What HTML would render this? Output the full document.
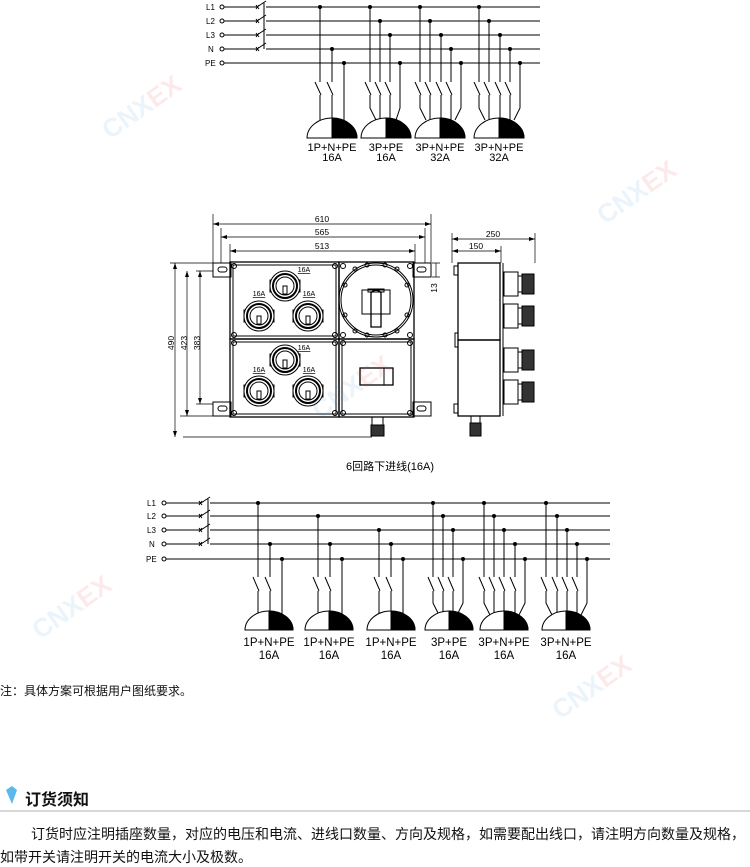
<!DOCTYPE html>
<html><head><meta charset="utf-8"><style>
html,body{margin:0;padding:0;background:#fff;}
body{width:750px;height:865px;position:relative;overflow:hidden;font-family:"Liberation Sans","Noto Sans CJK SC",sans-serif;}
.t{position:absolute;color:#111;white-space:nowrap;}
</style></head><body>
<svg width="750" height="865" style="position:absolute;left:0;top:0" xmlns="http://www.w3.org/2000/svg">
<g fill="none" stroke="#000" stroke-width="1">
<g font-family="Liberation Sans" font-size="8" fill="#000" stroke="none">
<text x="206" y="10">L1</text><text x="206" y="24">L2</text><text x="206" y="38">L3</text><text x="208" y="52">N</text><text x="205" y="66">PE</text>
</g>
<g>
<circle cx="222" cy="7" r="2"/><circle cx="222" cy="21" r="2"/><circle cx="222" cy="35" r="2"/><circle cx="222" cy="49" r="2"/><circle cx="222" cy="63" r="2"/>
<path d="M224 7H257M266 7H540M224 21H257M266 21H540M224 35H257M266 35H540M224 49H257M266 49H540M224 63H540"/>
<path d="M257 7L266 1M257 21L266 15M257 35L266 29M257 49L266 43M264 3V49"/>
<path d="M256 5l3 4M259 5l-3 4M256 19l3 4M259 19l-3 4M256 33l3 4M259 33l-3 4M256 47l3 4M259 47l-3 4"/>
</g>
<g fill="#000" stroke="none">
<circle cx="320" cy="7" r="2"/><circle cx="332" cy="49" r="2"/><circle cx="344" cy="63" r="2"/>
<circle cx="370" cy="7" r="2"/><circle cx="380" cy="21" r="2"/><circle cx="390" cy="35" r="2"/><circle cx="400" cy="63" r="2"/>
<circle cx="420" cy="7" r="2"/><circle cx="430" cy="21" r="2"/><circle cx="441" cy="35" r="2"/><circle cx="451" cy="49" r="2"/><circle cx="461" cy="63" r="2"/>
<circle cx="479" cy="7" r="2"/><circle cx="489" cy="21" r="2"/><circle cx="500" cy="35" r="2"/><circle cx="510" cy="49" r="2"/><circle cx="520" cy="63" r="2"/>
</g>
<path d="M320 7V82M315 82L321 95M320 95V138M332 49V82M327 82L333 95M332 95V138M344 63V138"/>
<path d="M370 7V82M365 82L371 95M370 95V108L376 120M380 21V82M375 82L381 95M380 95V130M390 35V82M385 82L391 95M390 95V130M400 63V108L396 120"/>
<path d="M420 7V82M415 82L421 95M420 95V108L426 120M430 21V82M425 82L431 95M430 95V130M441 35V82M436 82L442 95M441 95V130M451 49V82M446 82L452 95M451 95V130M461 63V108L455 120"/>
<path d="M479 7V82M474 82L480 95M479 95V108L485 120M489 21V82M484 82L490 95M489 95V130M500 35V82M495 82L501 95M500 95V130M510 49V82M505 82L511 95M510 95V130M520 63V108L514 120"/>
<g fill="#fff">
<path d="M307 138A25 20 0 0 1 357 138Z"/><path d="M361 138A25 20 0 0 1 411 138Z"/><path d="M415 138A25 20 0 0 1 465 138Z"/><path d="M474 138A25 20 0 0 1 524 138Z"/>
</g>
<g fill="#000">
<path d="M332 138V118A25 20 0 0 1 357 138Z"/><path d="M386 138V118A25 20 0 0 1 411 138Z"/><path d="M440 138V118A25 20 0 0 1 465 138Z"/><path d="M499 138V118A25 20 0 0 1 524 138Z"/>
</g>
<g font-family="Liberation Sans" font-size="11" fill="#000" stroke="none" text-anchor="middle">
<text x="332" y="151">1P+N+PE</text><text x="332" y="161">16A</text>
<text x="386" y="151">3P+PE</text><text x="386" y="161">16A</text>
<text x="440" y="151">3P+N+PE</text><text x="440" y="161">32A</text>
<text x="499" y="151">3P+N+PE</text><text x="499" y="161">32A</text>
</g>

<g stroke-width="0.7">
<path d="M213 214V263M431 214V263M221 228V263M425 228V263M230 244V263M415 244V263"/>
<path d="M213 224H431M221 237H425M230 251H415"/>
<path d="M452 233V263M535 233V263M501 246V263M452 239H535M452 251H501"/>
<path d="M170 263H213M183 437H372M196 271H213M196 404H213M175 263V437M187 271V416M200 271V404M180 416H213"/>
<path d="M436 263V277M432 263H440M432 277H440"/>
</g>
<g fill="#000" stroke="none">
<path d="M213 224l6-2v4zM431 224l-6-2v4zM221 237l6-2v4zM425 237l-6-2v4zM230 251l6-2v4zM415 251l-6-2v4zM452 239l6-2v4zM535 239l-6-2v4zM452 251l6-2v4zM501 251l-6-2v4z"/>
<path d="M175 263l-2 6h4zM175 437l-2-6h4zM187 271l-2 6h4zM187 416l-2-6h4zM200 271l-2 6h4zM200 404l-2-6h4z"/>
</g>
<g font-family="Liberation Sans" font-size="8.5" fill="#000" stroke="none" text-anchor="middle">
<text x="322" y="222">610</text><text x="322" y="235">565</text><text x="322" y="249">513</text>
<text x="493" y="237">250</text><text x="476" y="249">150</text>
<text transform="translate(174,343) rotate(-90)">490</text>
<text transform="translate(187,343) rotate(-90)">423</text>
<text transform="translate(200,343) rotate(-90)">383</text>
<text transform="translate(437,288) rotate(-90)">13</text>
</g>
<rect x="213" y="263" width="18" height="14"/><rect x="218" y="267" width="9" height="5" rx="2.5"/>
<rect x="413" y="263" width="18" height="14"/><rect x="417" y="267" width="9" height="5" rx="2.5"/>
<rect x="213" y="402" width="18" height="14"/><rect x="218" y="406" width="9" height="5" rx="2.5"/>
<rect x="413" y="402" width="18" height="14"/><rect x="417" y="406" width="9" height="5" rx="2.5"/>
<rect x="230" y="262" width="109" height="77" stroke-width="1.3"/><rect x="233" y="265" width="103" height="71"/>
<rect x="339" y="262" width="75" height="77" stroke-width="1.3"/>
<rect x="230" y="339" width="109" height="78" stroke-width="1.3"/><rect x="233" y="342" width="103" height="72"/>
<rect x="339" y="339" width="75" height="78" stroke-width="1.3"/><rect x="342" y="342" width="69" height="72"/>
<g>
<circle cx="234" cy="266" r="2.5"/><circle cx="335" cy="266" r="2.5"/><circle cx="234" cy="335" r="2.5"/><circle cx="335" cy="335" r="2.5"/>
<circle cx="234" cy="343" r="2.5"/><circle cx="335" cy="343" r="2.5"/><circle cx="234" cy="413" r="2.5"/><circle cx="335" cy="413" r="2.5"/>
<circle cx="343" cy="343" r="2.5"/><circle cx="410" cy="343" r="2.5"/><circle cx="343" cy="413" r="2.5"/><circle cx="410" cy="413" r="2.5"/>
<circle cx="343" cy="266" r="2.5"/><circle cx="410" cy="266" r="2.5"/><circle cx="343" cy="335" r="2.5"/><circle cx="410" cy="335" r="2.5"/>
</g>
<circle cx="376" cy="300" r="37"/><circle cx="376" cy="300" r="35"/>
<g><circle cx="355" cy="269" r="2"/><circle cx="397" cy="269" r="2"/><circle cx="355" cy="331" r="2"/><circle cx="397" cy="331" r="2"/><circle cx="345" cy="285" r="2"/><circle cx="407" cy="285" r="2"/><circle cx="345" cy="315" r="2"/><circle cx="407" cy="315" r="2"/><circle cx="367" cy="265" r="2"/><circle cx="385" cy="265" r="2"/><circle cx="367" cy="335" r="2"/><circle cx="385" cy="335" r="2"/></g>
<rect x="362" y="290" width="28" height="24"/><rect x="368" y="289" width="16" height="3"/>
<path d="M371 293A6 6 0 0 1 381 293V327H371Z" stroke-width="1.3"/>
<rect x="360" y="368" width="33" height="17" stroke-width="1.3"/><path d="M384 368V385"/>
<rect x="372" y="417" width="11" height="8"/><rect x="371" y="425" width="13" height="11" fill="#333"/>
<g stroke-width="1">
<rect x="270" y="280" width="30" height="12" fill="#000"/><circle cx="285" cy="286" r="15" fill="#fff"/><circle cx="285" cy="286" r="12" stroke-width="2"/><circle cx="285" cy="286" r="9"/><path d="M283 286h4v8h-4z" fill="#fff"/>
<rect x="244" y="310" width="30" height="12" fill="#000"/><circle cx="259" cy="316" r="15" fill="#fff"/><circle cx="259" cy="316" r="12" stroke-width="2"/><circle cx="259" cy="316" r="9"/><path d="M257 316h4v8h-4z" fill="#fff"/>
<rect x="293" y="310" width="30" height="12" fill="#000"/><circle cx="308" cy="316" r="15" fill="#fff"/><circle cx="308" cy="316" r="12" stroke-width="2"/><circle cx="308" cy="316" r="9"/><path d="M306 316h4v8h-4z" fill="#fff"/>
<rect x="270" y="354" width="30" height="12" fill="#000"/><circle cx="285" cy="360" r="15" fill="#fff"/><circle cx="285" cy="360" r="12" stroke-width="2"/><circle cx="285" cy="360" r="9"/><path d="M283 360h4v8h-4z" fill="#fff"/>
<rect x="244" y="385" width="30" height="12" fill="#000"/><circle cx="259" cy="391" r="15" fill="#fff"/><circle cx="259" cy="391" r="12" stroke-width="2"/><circle cx="259" cy="391" r="9"/><path d="M257 391h4v8h-4z" fill="#fff"/>
<rect x="293" y="385" width="30" height="12" fill="#000"/><circle cx="308" cy="391" r="15" fill="#fff"/><circle cx="308" cy="391" r="12" stroke-width="2"/><circle cx="308" cy="391" r="9"/><path d="M306 391h4v8h-4z" fill="#fff"/>
</g>
<g font-family="Liberation Sans" font-size="7" fill="#000" stroke="none" text-anchor="middle" text-decoration="underline">
<text x="304" y="272">16A</text><text x="259" y="296">16A</text><text x="309" y="296">16A</text>
<text x="304" y="350">16A</text><text x="259" y="372">16A</text><text x="309" y="372">16A</text>
</g>
<rect x="458" y="263" width="42" height="77" stroke-width="1.3"/><rect x="458" y="340" width="42" height="76" stroke-width="1.3"/>
<path d="M500 263V416M503 263V416"/>
<g>
<rect x="504" y="272" width="14" height="24"/><rect x="518" y="276" width="4" height="16"/><rect x="522" y="274" width="12" height="20" fill="#333"/>
<rect x="504" y="304" width="14" height="24"/><rect x="518" y="308" width="4" height="16"/><rect x="522" y="306" width="12" height="20" fill="#333"/>
<rect x="504" y="348" width="14" height="24"/><rect x="518" y="352" width="4" height="16"/><rect x="522" y="350" width="12" height="20" fill="#333"/>
<rect x="504" y="380" width="14" height="24"/><rect x="518" y="384" width="4" height="16"/><rect x="522" y="382" width="12" height="20" fill="#333"/>
</g>
<rect x="454" y="266" width="4" height="9"/><rect x="454" y="404" width="4" height="9"/><rect x="455" y="333" width="3" height="14"/>
<rect x="471" y="416" width="9" height="7"/><rect x="470" y="423" width="11" height="13" fill="#333"/>
<text x="390" y="470" font-family="Liberation Sans,Noto Sans CJK SC,sans-serif" font-size="11" fill="#000" stroke="none" text-anchor="middle">6回路下进线(16A)</text>

<g font-family="Liberation Sans" font-size="8" fill="#000" stroke="none">
<text x="147" y="506">L1</text><text x="147" y="519">L2</text><text x="147" y="533">L3</text><text x="149" y="547">N</text><text x="146" y="562">PE</text>
</g>
<circle cx="164" cy="503" r="2"/><circle cx="164" cy="516" r="2"/><circle cx="164" cy="530" r="2"/><circle cx="164" cy="544" r="2"/><circle cx="164" cy="559" r="2"/>
<path d="M166 503H201M210 503H610M166 516H201M210 516H610M166 530H201M210 530H610M166 544H201M210 544H610M166 559H610"/>
<path d="M201 503L210 497M201 516L210 510M201 530L210 524M201 544L210 538M208 499V544"/>
<path d="M199 501l3 4M202 501l-3 4M199 514l3 4M202 514l-3 4M199 528l3 4M202 528l-3 4M199 542l3 4M202 542l-3 4"/>
<g fill="#000" stroke="none">
<circle cx="258" cy="503" r="2"/><circle cx="270" cy="544" r="2"/><circle cx="282" cy="559" r="2"/>
<circle cx="318" cy="516" r="2"/><circle cx="330" cy="544" r="2"/><circle cx="342" cy="559" r="2"/>
<circle cx="379" cy="530" r="2"/><circle cx="391" cy="544" r="2"/><circle cx="403" cy="559" r="2"/>
<circle cx="433" cy="503" r="2"/><circle cx="443" cy="516" r="2"/><circle cx="453" cy="530" r="2"/><circle cx="463" cy="559" r="2"/>
<circle cx="484" cy="503" r="2"/><circle cx="494" cy="516" r="2"/><circle cx="504" cy="530" r="2"/><circle cx="515" cy="544" r="2"/><circle cx="525" cy="559" r="2"/>
<circle cx="546" cy="503" r="2"/><circle cx="557" cy="516" r="2"/><circle cx="567" cy="530" r="2"/><circle cx="577" cy="544" r="2"/><circle cx="587" cy="559" r="2"/>
</g>
<path d="M258 503V577M253 577L259 591M258 591V630M270 544V577M265 577L271 591M270 591V630M282 559V630"/>
<path d="M318 516V577M313 577L319 591M318 591V630M330 544V577M325 577L331 591M330 591V630M342 559V630"/>
<path d="M379 530V577M374 577L380 591M379 591V630M391 544V577M386 577L392 591M391 591V630M403 559V630"/>
<path d="M433 503V577M428 577L434 591M433 591V603L439 615M443 516V577M438 577L444 591M443 591V625M453 530V577M448 577L454 591M453 591V625M463 559V603L457 615"/>
<path d="M484 503V577M479 577L485 591M484 591V603L490 615M494 516V577M489 577L495 591M494 591V625M504 530V577M499 577L505 591M504 591V625M515 544V577M510 577L516 591M515 591V625M525 559V603L519 615"/>
<path d="M546 503V577M541 577L547 591M546 591V603L552 615M557 516V577M552 577L558 591M557 591V625M567 530V577M562 577L568 591M567 591V625M577 544V577M572 577L578 591M577 591V625M587 559V603L581 615"/>
<g fill="#fff">
<path d="M245 630A24 19 0 0 1 293 630Z"/><path d="M305 630A24 19 0 0 1 353 630Z"/><path d="M367 630A24 19 0 0 1 415 630Z"/><path d="M425 630A24 19 0 0 1 473 630Z"/><path d="M480 630A24 19 0 0 1 528 630Z"/><path d="M542 630A24 19 0 0 1 590 630Z"/>
</g>
<g fill="#000">
<path d="M269 630V611A24 19 0 0 1 293 630Z"/><path d="M329 630V611A24 19 0 0 1 353 630Z"/><path d="M391 630V611A24 19 0 0 1 415 630Z"/><path d="M449 630V611A24 19 0 0 1 473 630Z"/><path d="M504 630V611A24 19 0 0 1 528 630Z"/><path d="M566 630V611A24 19 0 0 1 590 630Z"/>
</g>
<g font-family="Liberation Sans" font-size="11.5" fill="#000" stroke="none" text-anchor="middle">
<text x="269" y="646">1P+N+PE</text><text x="269" y="659">16A</text>
<text x="329" y="646">1P+N+PE</text><text x="329" y="659">16A</text>
<text x="391" y="646">1P+N+PE</text><text x="391" y="659">16A</text>
<text x="449" y="646">3P+PE</text><text x="449" y="659">16A</text>
<text x="504" y="646">3P+N+PE</text><text x="504" y="659">16A</text>
<text x="566" y="646">3P+N+PE</text><text x="566" y="659">16A</text>
</g>
</g>
<g font-family="Liberation Sans" font-weight="bold" font-size="26" opacity="0.1">
<text transform="translate(110,140) rotate(-35)"><tspan fill="#3a8ad8">CNX</tspan><tspan fill="#e03030">EX</tspan></text>
<text transform="translate(605,225) rotate(-35)"><tspan fill="#3a8ad8">CNX</tspan><tspan fill="#e03030">EX</tspan></text>
<text transform="translate(320,420) rotate(-35)"><tspan fill="#3a8ad8">CNX</tspan><tspan fill="#e03030">EX</tspan></text>
<text transform="translate(40,640) rotate(-35)"><tspan fill="#3a8ad8">CNX</tspan><tspan fill="#e03030">EX</tspan></text>
<text transform="translate(560,720) rotate(-35)"><tspan fill="#3a8ad8">CNX</tspan><tspan fill="#e03030">EX</tspan></text>
</g>
<path d="M6 790L12 786L17 790L12 804Z" fill="#5ab8ec"/>
<rect x="0" y="810" width="750" height="2" fill="#d8d8d8"/>
</svg>
<div class="t" style="left:0;top:682px;font-size:12px;">注：具体方案可根据用户图纸要求。</div>
<div class="t" style="left:25px;top:786px;font-size:16px;font-weight:bold;">订货须知</div>
<div class="t" style="left:31px;top:824px;font-size:14px;">订货时应注明插座数量，对应的电压和电流、进线口数量、方向及规格，如需要配出线口，请注明方向数量及规格，</div>
<div class="t" style="left:0;top:847px;font-size:14px;">如带开关请注明开关的电流大小及极数。</div>
</body></html>
